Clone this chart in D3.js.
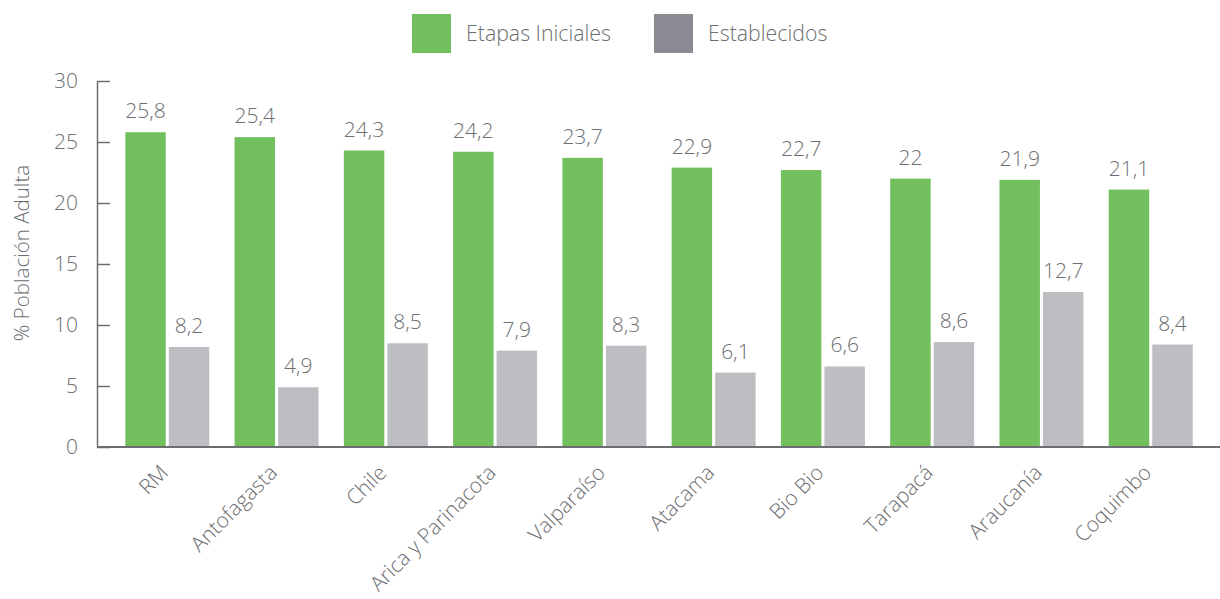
<!DOCTYPE html>
<html>
<head>
<meta charset="utf-8">
<script src="https://cdn.jsdelivr.net/npm/d3@7"></script>
<style>
  html, body { margin: 0; padding: 0; background: #fff; }
  svg { display: block; }
  text { font-family: "Open Sans", "Noto Sans", sans-serif; font-weight: 300; fill: #6d6e71; }
</style>
</head>
<body>
<svg id="chart" width="1220" height="599"></svg>
<script>
const regions = ["RM", "Antofagasta", "Chile", "Arica y Parinacota", "Valparaíso",
                 "Atacama", "Bio Bio", "Tarapacá", "Araucanía", "Coquimbo"];
const etapasIniciales = [25.8, 25.4, 24.3, 24.2, 23.7, 22.9, 22.7, 22, 21.9, 21.1];
const establecidos = [8.2, 4.9, 8.5, 7.9, 8.3, 6.1, 6.6, 8.6, 12.7, 8.4];
const seriesNames = ["Etapas Iniciales", "Establecidos"];
const yTicks = [0, 5, 10, 15, 20, 25, 30];
const yTitle = "% Población Adulta";

const barColors = ["#72bf5e", "#bdbec2"];
const legendColors = ["#72bf5e", "#8b8c93"];
const axisColor = "#6d6e71";

const svg = d3.select("#chart");

const x0 = d3.scaleBand().domain(regions).range([100, 1218]).padding(0.2315);
const x1 = d3.scaleBand().domain([0, 1]).range([0, x0.bandwidth()]).paddingInner(0.07);
const y = d3.scaleLinear().domain([0, 30]).range([447, 81]);

const fmt = v => String(v).replace(".", ",");

// Y axis: ticks pointing into the plot
const yAxis = svg.append("g")
  .attr("transform", "translate(97,0)")
  .call(d3.axisLeft(y).tickValues(yTicks).tickSize(-13).tickPadding(19).tickSizeOuter(0));
yAxis.select(".domain").attr("stroke", axisColor).attr("stroke-width", 1.5);
yAxis.selectAll(".tick line").attr("stroke", axisColor).attr("stroke-width", 1.5);
yAxis.selectAll(".tick text")
  .attr("fill", axisColor).style("font-size", "21px").attr("font-family", null);

// Y axis title
svg.append("text")
  .attr("transform", "translate(29,253) rotate(-90)")
  .attr("text-anchor", "middle")
  .style("font-size", "20.5px")
  .text(yTitle);

// Bars
const data = regions.map((r, i) => ({ region: r, values: [etapasIniciales[i], establecidos[i]] }));
const groups = svg.append("g").selectAll("g")
  .data(data).join("g")
  .attr("transform", d => `translate(${x0(d.region)},0)`);

groups.selectAll("rect")
  .data(d => d.values.map((v, k) => ({ k, v })))
  .join("rect")
  .attr("x", d => x1(d.k))
  .attr("width", x1.bandwidth())
  .attr("y", d => y(d.v))
  .attr("height", d => y(0) - y(d.v))
  .attr("fill", d => barColors[d.k]);

groups.selectAll("text.val")
  .data(d => d.values.map((v, k) => ({ k, v })))
  .join("text")
  .attr("class", "val")
  .attr("x", d => x1(d.k) + x1.bandwidth() / 2)
  .attr("y", d => y(d.v) - 14)
  .attr("text-anchor", "middle")
  .style("font-size", "21px")
  .text(d => fmt(d.v));

// X axis baseline
svg.append("line")
  .attr("x1", 97).attr("x2", 1220)
  .attr("y1", y(0)).attr("y2", y(0))
  .attr("stroke", axisColor).attr("stroke-width", 2);

// Rotated category labels
svg.append("g").selectAll("text")
  .data(regions).join("text")
  .attr("transform", d => `translate(${x0(d) + x0.bandwidth() / 2 + 2},${474}) rotate(-45)`)
  .attr("text-anchor", "end")
  .style("font-size", "21px")
  .text(d => d);

// Legend
const legendX = [412, 654];
const legend = svg.append("g").selectAll("g")
  .data(seriesNames).join("g")
  .attr("transform", (d, i) => `translate(${legendX[i]},14)`);
legend.append("rect")
  .attr("width", 39).attr("height", 39)
  .attr("fill", (d, i) => legendColors[i]);
legend.append("text")
  .attr("x", 54).attr("y", 27)
  .style("font-size", "21.3px")
  .text(d => d);
</script>
</body>
</html>
